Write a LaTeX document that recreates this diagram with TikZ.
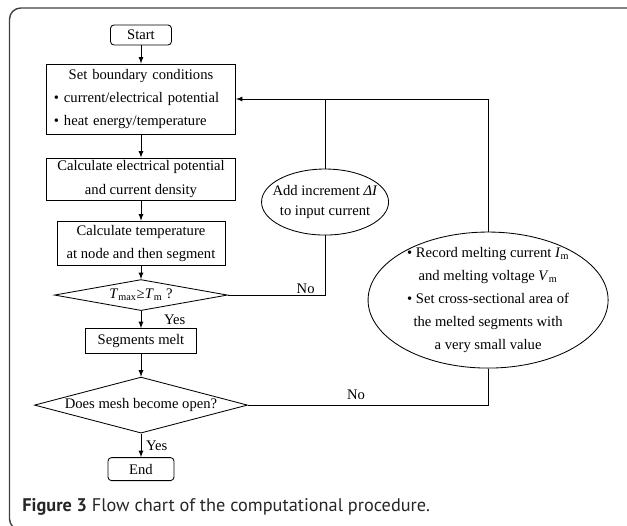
\documentclass[tikz,border=0pt]{standalone}
\usepackage{fontspec}
\setmainfont{Liberation Serif}
\newfontfamily\capfont{PT Sans}
\usetikzlibrary{shapes.geometric}

\begin{document}
\begin{tikzpicture}[
    x=0.025cm, y=0.025cm,
    base/.style = {draw=black, line width=0.6pt, inner sep=0pt, align=center},
    process/.style = {base, rectangle},
    terminal/.style = {base, rectangle, rounded corners=2.5pt},
    decision/.style = {base, diamond},
    note/.style = {base, ellipse},
    node distance=1.6cm,
    font=\fontsize{10.4}{16.4}\selectfont,
    >=latex, line width=0.6pt
]
  \useasboundingbox (0,0) rectangle (627,526);
  \draw[line width=1pt, black!75, rounded corners=8pt] (640,518) -- (9.5,518) -- (9.5,-4) -- (30,-4);

  \node (start) [terminal, minimum width=1.525cm, minimum height=0.5cm] at (141,491) {Start};
  \node (bound) [process, below of=start, minimum width=4.725cm, minimum height=1.75cm,
      text width=4.35cm, align=left]
      {\makebox[4.35cm]{Set boundary conditions}\\
       \textbullet{} current/electrical potential\\
       \textbullet{} heat energy/temperature};
  \node (pot)   [process, below of=bound, yshift=-0.4cm, minimum width=4.725cm, minimum height=1.05cm]
      {Calculate electrical potential\\and current density};
  \node (temp)  [process, below of=pot, minimum width=4.2cm, minimum height=1.1cm]
      {Calculate temperature\\at node and then segment};
  \node (check) [decision, below of=temp, yshift=0.3cm, aspect=5.6, minimum width=4.325cm, minimum height=0.775cm]
      {\textit{T}\textsubscript{max}≥\textit{T}\textsubscript{m} ?};
  \node (melt)  [process, below of=check, yshift=0.45cm, minimum width=2.775cm, minimum height=0.625cm] {Segments melt};
  \node (open)  [decision, below of=melt, aspect=3.8, minimum width=5.325cm, minimum height=1.4cm] {Does mesh become open?};
  \node (stop)  [terminal, below of=open, minimum width=1.65cm, minimum height=0.575cm] {End};

  \node (inc) [note, right of=pot, xshift=3cm, yshift=-0.575cm, inner xsep=-0.25cm,
      minimum width=3.175cm, minimum height=1.65cm, font=\fontsize{10.4}{14}\selectfont]
      {Add increment \textit{ΔI}\\to input current};
  \node (rec) [note, right of=check, xshift=7.075cm, yshift=-0.125cm, inner ysep=-0.3cm,
      minimum width=6cm, minimum height=3.4cm]
      {\textbullet{} Record melting current \textit{I}\textsubscript{m}\\
       and melting voltage \textit{V}\textsubscript{m}\\
       \textbullet{} Set cross-sectional area of\\
       the melted segments with\\
       a very small value};

  \draw[->] (start) -- (bound);
  \draw[->] (bound) -- (pot);
  \draw[->] (pot) -- (temp);
  \draw[->] (temp) -- (check);
  \draw[->] (check) -- node[right, xshift=0.45cm] {Yes} (melt);
  \draw[->] (melt) -- (open);
  \draw[->] (open) -- node[right] {Yes} (stop);

  \draw (check.east) -- node[above, pos=0.8, inner sep=1pt] {No} (check.east -| inc.south) -- (inc.south);
  \draw (inc.north) -- (inc.north |- bound.east);
  \draw[->] (rec.north) |- (bound.east);
  \draw (open.east) -- node[above, pos=0.45] {No} (open.east -| rec.south) -- (rec.south);

  \node (caption) [anchor=base west, inner sep=0pt, font=\capfont\fontsize{13}{15}\selectfont, text=black!85]
      at (22,14) {\textbf{Figure 3} Flow chart of the computational procedure.};
\end{tikzpicture}
\end{document}
